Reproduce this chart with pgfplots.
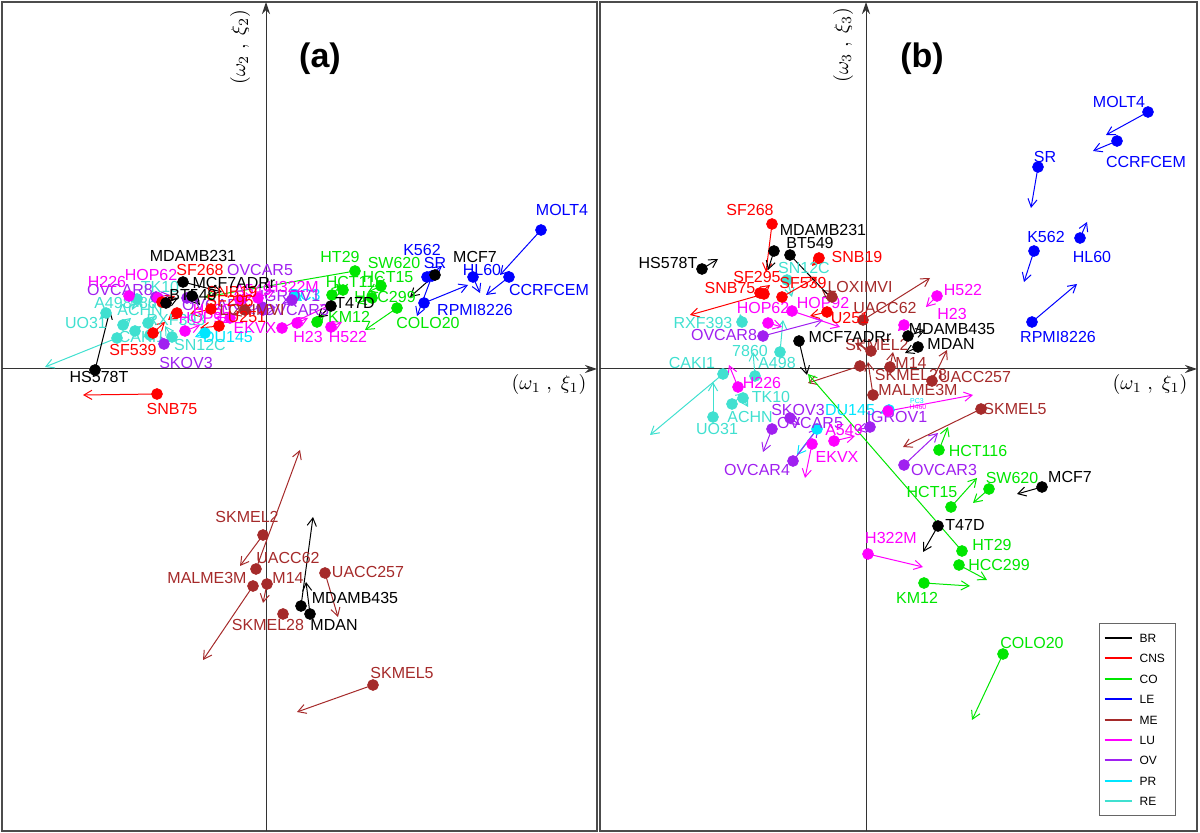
\documentclass[border=0pt]{standalone}
\usepackage{fontspec}
\setmainfont{Liberation Sans}
\usepackage{pgfplots}
\usepackage{pgfplotstable}
\pgfplotsset{compat=1.18}
\usetikzlibrary{arrows.meta}

\definecolor{cBR}{RGB}{0,0,0}
\definecolor{cCNS}{RGB}{255,0,0}
\definecolor{cCO}{RGB}{0,230,0}
\definecolor{cLE}{RGB}{0,0,255}
\definecolor{cME}{RGB}{165,42,42}
\definecolor{cLU}{RGB}{255,0,255}
\definecolor{cOV}{RGB}{160,32,240}
\definecolor{cPR}{RGB}{0,230,255}
\definecolor{cRE}{RGB}{64,224,208}

\newcommand{\lbl}{\fontsize{8}{9}\selectfont}
\newcommand{\tinylbl}{\fontsize{3.5}{4}\selectfont}

\newcommand{\grp}[3]{%
 \addplot[forget plot, #2, line width=0.5pt, -{Straight Barb[length=4pt,width=4.6pt]},
   quiver={u={\thisrow{ex}-\thisrow{x}}, v={\thisrow{ey}-\thisrow{y}}}] table[x=x,y=y]{#1};
 \addplot[forget plot, only marks, mark=*, mark size=2.7pt, #2, mark options={fill=#2,draw=#2}] table[x=x,y=y]{#1};
 \addplot[forget plot, draw=none, mark=none, nodes near coords, point meta=explicit symbolic,
   nodes near coords style={anchor=center, inner sep=0pt, font=#3, text=#2}] table[x=lx,y=ly,meta=name]{#1};
}

% ---------- panel (a) : pixel positions (x,y point; ex,ey arrow end; lx,ly label)
\pgfplotstableread{
x y ex ey lx ly name
435 275 410 297 475 257 MCF7
183 282 222 292 234 283 MCF7ADRr
192 296 200 305 193 256 MDAMB231
166 303 178 298 193 295 BT549
95 370 110 310 99 377 HS578T
301 606 313 517 355 598 MDAMB435
310 614 306 582 334 625 MDAN
331 306 318 318 355 303 T47D
}\aBR
\pgfplotstableread{
x y ex ey lx ly name
162 302 175 296 200 270 SF268
211 309 190 314 230 301 SF295
177 313 168 320 232 292 SNB19
219 326 200 328 247 317 U251
153 333 165 322 133 350 SF539
157 394 83 395 172 409 SNB75
}\aCNS
\pgfplotstableread{
x y ex ey lx ly name
355 271 205 297 340 257 HT29
381 286 368 292 394 263 SW620
343 290 336 284 388 277 HCT15
332 295 341 285 355 282 HCT116
372 298 357 303 385 297 HCC299
317 322 324 314 349 317 KM12
397 308 365 330 428 323 COLO20
}\aCO
\pgfplotstableread{
x y ex ey lx ly name
541 230 500 275 562 210 MOLT4
509 277 486 295 549 290 CCRFCEM
473 277 480 293 482 270 HL60
424 303 468 285 475 310 RPMI8226
432 276 417 316 435 263 SR
427 277 442 266 422 250 K562
}\aLE
\pgfplotstableread{
x y ex ey lx ly name
245 310 232 315 252 310 LOXIMVI
263 535 240 566 247 517 SKMEL2
256 569 300 450 288 558 UACC62
253 586 203 660 207 578 MALME3M
267 584 263 603 288 578 M14
283 614 288 618 268 625 SKMEL28
325 573 338 617 368 572 UACC257
373 685 297 712 402 673 SKMEL5
}\aME
\pgfplotstableread{
x y ex ey lx ly name
129 296 138 301 107 282 H226
158 298 166 302 151 275 HOP62
185 331 200 325 205 318 HOP92
297 323 308 318 308 337 H23
331 327 342 322 348 337 H522
282 328 330 305 255 328 EKVX
258 298 275 290 293 287 H322M
240 300 252 296 253 290 A549
230 318 215 318 212 310 H460
}\aLU
\pgfplotstableread{
x y ex ey lx ly name
262 307 245 312 260 270 OVCAR5
156 297 170 295 120 290 OVCAR8
164 344 160 336 186 363 SKOV3
292 300 282 304 290 296 IGROV1
263 310 276 307 296 310 OVCAR3
187 298 200 301 215 305 OVCAR4
}\aOV
\pgfplotstableread{
x y ex ey lx ly name
295 296 302 301 305 295 PC3
205 333 195 337 228 337 DU145
}\aPR
\pgfplotstableread{
x y ex ey lx ly name
137 299 132 310 113 303 A498
106 313 100 319 86 323 UO31
123 325 131 318 140 310 ACHN
117 338 45 367 142 337 CAKI1
148 323 155 316 160 287 TK10
172 337 165 326 176 320 RXF393
150 335 158 329 200 345 SN12C
135 331 141 326 148 303 7860
}\aRE

% ---------- panel (b)
\pgfplotstableread{
x y ex ey lx ly name
1042 487 1017 494 1070 477 MCF7
938 526 923 552 965 525 T47D
702 269 718 259 668 263 HS578T
774 251 768 270 823 230 MDAMB231
790 255 833 300 810 243 BT549
799 341 807 375 850 337 MCF7ADRr
908 336 925 330 952 329 MDAMB435
918 347 905 353 951 344 MDAN
}\bBR
\pgfplotstableread{
x y ex ey lx ly name
772 224 766 272 750 210 SF268
760 293 770 285 757 277 SF295
764 294 690 315 730 288 SNB75
819 258 812 266 857 257 SNB19
782 297 817 277 803 283 SF539
827 312 810 316 850 318 U251
}\bCNS
\pgfplotstableread{
x y ex ey lx ly name
939 450 948 427 978 451 HCT116
989 489 973 503 1012 478 SW620
951 507 977 478 932 492 HCT15
962 551 808 374 992 545 HT29
959 565 987 580 999 565 HCC299
924 583 970 586 917 598 KM12
1003 654 972 720 1032 643 COLO20
}\bCO
\pgfplotstableread{
x y ex ey lx ly name
1148 112 1106 135 1119 102 MOLT4
1117 141 1093 151 1146 162 CCRFCEM
1038 167 1031 208 1045 157 SR
1034 251 1024 282 1046 237 K562
1080 238 1087 222 1092 257 HL60
1032 322 1077 284 1058 337 RPMI8226
}\bLE
\pgfplotstableread{
x y ex ey lx ly name
832 297 822 290 860 287 LOXIMVI
863 320 930 278 885 308 UACC62
871 351 855 343 877 345 SKMEL2
890 367 893 352 911 363 M14
860 366 808 383 911 375 SKMEL28
932 381 947 350 975 377 UACC257
873 395 868 362 918 390 MALME3M
981 409 903 447 1015 409 SKMEL5
}\bME
\pgfplotstableread{
x y ex ey lx ly name
937 296 926 307 963 290 H522
904 325 898 331 952 314 H23
792 311 840 327 763 308 HOP62
768 323 782 327 823 303 HOP92
738 387 729 365 762 383 H226
812 444 805 478 837 457 EKVX
834 441 855 436 844 430 A549
868 554 923 567 891 538 H322M
}\bLU
\pgfplotstableread{
x y ex ey lx ly name
888 411 973 395 918 407 H460
}\bLUs
\pgfplotstableread{
x y ex ey lx ly name
763 336 823 320 724 335 OVCAR8
790 418 800 425 798 410 SKOV3
772 429 763 452 810 423 OVCAR5
793 461 818 428 757 470 OVCAR4
870 427 857 430 897 417 IGROV1
904 465 938 433 944 470 OVCAR3
}\bOV
\pgfplotstableread{
x y ex ey lx ly name
817 429 797 455 850 410 DU145
}\bPR
\pgfplotstableread{
x y ex ey lx ly name
889 410 880 413 917 401 PC3
}\bPRs
\pgfplotstableread{
x y ex ey lx ly name
787 280 792 297 804 268 SN12C
742 322 740 314 703 323 RXF393
755 376 753 352 750 351 7860
780 352 783 320 777 363 A498
723 374 650 435 692 363 CAKI1
743 398 748 407 771 397 TK10
732 404 745 393 750 417 ACHN
713 417 713 382 717 429 UO31
}\bRE

\pgfplotsset{
  panel/.style={
    scale only axis, height=414.5pt, y dir=reverse, ymin=2, ymax=831,
    ticks=none, clip=false, axis line style={draw=black!70, line width=0.6pt},
  },
}

\begin{document}
\begin{tikzpicture}
% ---------------- (a)
\begin{axis}[panel, width=297.5pt, xmin=2, xmax=597, at={(0pt,0pt)}, anchor=south west]
\path (axis cs:0,0) rectangle (axis cs:600,833);
\draw[black!80, line width=0.5pt, -{Stealth[length=6pt,width=4pt]}] (axis cs:2,369) -- (axis cs:597,369);
\draw[black!80, line width=0.5pt, -{Stealth[length=6pt,width=4pt]}] (axis cs:266,831) -- (axis cs:266,2);
\node[font=\fontsize{17}{17}\selectfont\bfseries] at (axis cs:320,59) {(a)};
\node[rotate=90, font=\fontsize{10}{10}\selectfont] at (axis cs:240,47) {$(\omega_2\;,\;\xi_2)$};
\node[font=\fontsize{10}{10}\selectfont] at (axis cs:549,385) {$(\omega_1\;,\;\xi_1)$};
\grp{\aRE}{cRE}{\lbl}
\grp{\aPR}{cPR}{\lbl}
\grp{\aOV}{cOV}{\lbl}
\grp{\aLU}{cLU}{\lbl}
\grp{\aME}{cME}{\lbl}
\grp{\aLE}{cLE}{\lbl}
\grp{\aCO}{cCO}{\lbl}
\grp{\aCNS}{cCNS}{\lbl}
\grp{\aBR}{cBR}{\lbl}
\end{axis}
% ---------------- (b)
\begin{axis}[panel, width=298.5pt, xmin=600, xmax=1197, at={(299pt,0pt)}, anchor=south west,
  legend style={at={(axis description cs:0.836,0.251)}, anchor=north west, draw=black!60,
    line width=0.5pt, font=\fontsize{6}{7}\selectfont, row sep=3.7pt, inner xsep=2pt, inner ysep=4pt,
    nodes={inner xsep=3.5pt, inner ysep=1pt, text height=4.5pt, text depth=0pt},
    cells={anchor=west}},
  legend image code/.code={\draw[#1, line width=1pt] (0pt,0pt) -- (13.5pt,0pt);}]
\path (axis cs:600,0) rectangle (axis cs:1200,833);
\draw[black!80, line width=0.5pt, -{Stealth[length=6pt,width=4pt]}] (axis cs:600,369) -- (axis cs:1197,369);
\draw[black!80, line width=0.5pt, -{Stealth[length=6pt,width=4pt]}] (axis cs:866,831) -- (axis cs:866,2);
\node[font=\fontsize{17}{17}\selectfont\bfseries] at (axis cs:922,59) {(b)};
\node[rotate=90, font=\fontsize{10}{10}\selectfont] at (axis cs:843,45) {$(\omega_3\;,\;\xi_3)$};
\node[font=\fontsize{10}{10}\selectfont] at (axis cs:1150,385) {$(\omega_1\;,\;\xi_1)$};
\grp{\bRE}{cRE}{\lbl}
\grp{\bPR}{cPR}{\lbl}
\grp{\bPRs}{cPR}{\tinylbl}
\grp{\bOV}{cOV}{\lbl}
\grp{\bLU}{cLU}{\lbl}
\grp{\bLUs}{cLU}{\tinylbl}
\grp{\bME}{cME}{\lbl}
\grp{\bLE}{cLE}{\lbl}
\grp{\bCO}{cCO}{\lbl}
\grp{\bCNS}{cCNS}{\lbl}
\grp{\bBR}{cBR}{\lbl}
\addlegendimage{cBR}\addlegendentry{BR}
\addlegendimage{cCNS}\addlegendentry{CNS}
\addlegendimage{cCO}\addlegendentry{CO}
\addlegendimage{cLE}\addlegendentry{LE}
\addlegendimage{cME}\addlegendentry{ME}
\addlegendimage{cLU}\addlegendentry{LU}
\addlegendimage{cOV}\addlegendentry{OV}
\addlegendimage{cPR}\addlegendentry{PR}
\addlegendimage{cRE}\addlegendentry{RE}
\end{axis}
\end{tikzpicture}
\end{document}
